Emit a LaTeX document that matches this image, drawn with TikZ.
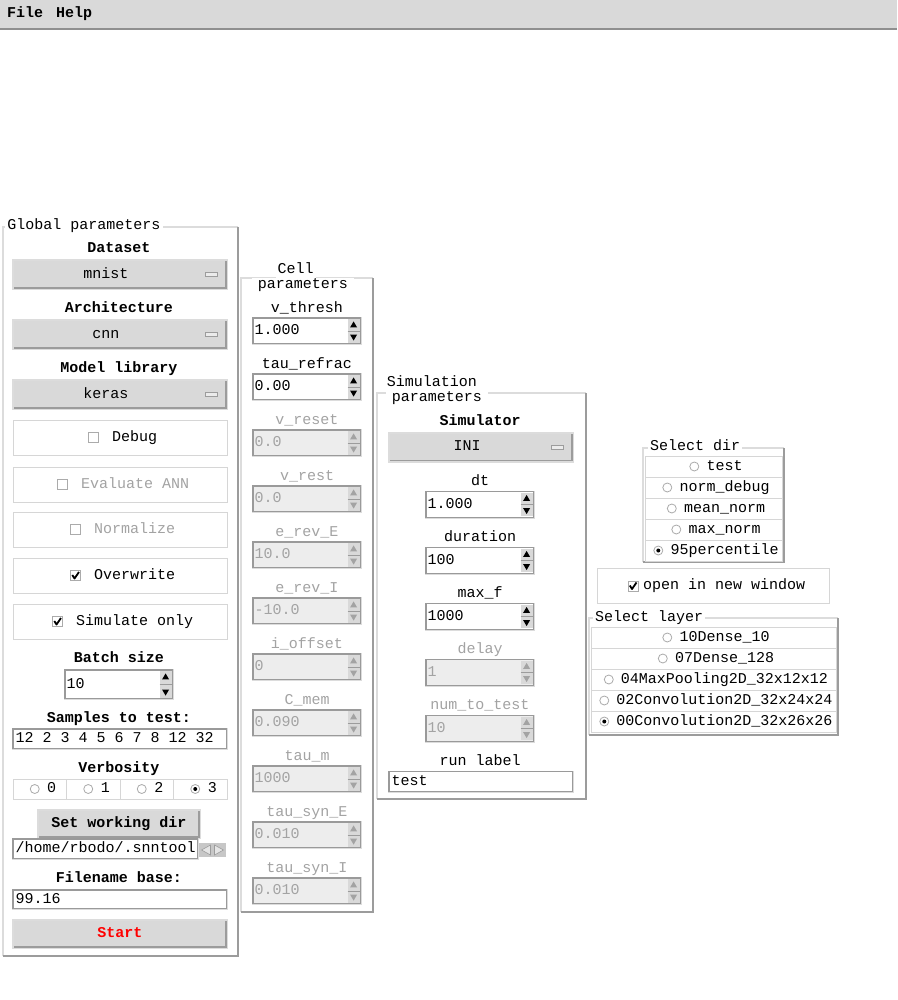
\documentclass[tikz,border=0pt]{standalone}
\usepackage{fontspec}
\newfontfamily\monofam{Liberation Mono}
\newcommand\uifont{\monofam\fontsize{15}{15}\selectfont}
\newcommand\uibold{\monofam\bfseries\fontsize{15}{15}\selectfont}
\definecolor{guigray}{HTML}{D9D9D9}
\definecolor{framelight}{HTML}{DCDCDC}
\definecolor{framedark}{HTML}{9C9C9C}
\definecolor{entrydark}{HTML}{9A9A9A}
\definecolor{rowline}{HTML}{D6D6D6}
\definecolor{radioline}{HTML}{ABABAB}
\definecolor{dimtext}{HTML}{A3A3A3}
\definecolor{offfill}{HTML}{EDEDED}
\definecolor{menuline}{HTML}{8F8F8F}
\definecolor{startred}{HTML}{FF0000}
\tikzset{
  >=latex,
  every node/.style={font=\uifont,inner sep=0pt,text height=10pt,text depth=3pt},
  tinyshape/.style={text height=0pt,text depth=0pt},
}
\tikzstyle{heading}=[font=\uibold]
\tikzstyle{title}=[fill=white,inner xsep=2pt,inner ysep=1pt]
\tikzstyle{dropbox}=[fill=guigray,draw=framelight,line width=2pt,minimum height=29pt]
\tikzstyle{button}=[fill=guigray,draw=framelight,line width=2pt,minimum height=28pt,font=\uibold]
\tikzstyle{optbox}=[draw=rowline,line width=1pt,minimum width=214pt,minimum height=35pt]
\tikzstyle{entrybox}=[fill=white,draw=entrydark,line width=1.2pt,minimum height=20pt]
\tikzstyle{spinon}=[entrybox,minimum height=26pt]
\tikzstyle{spinoff}=[entrybox,fill=offfill,minimum height=26pt]
\tikzstyle{radiorow}=[draw=rowline,fill=white,line width=1pt,minimum height=21pt]
\tikzstyle{radio}=[circle,draw=radioline,fill=white,line width=0.8pt,minimum size=9pt,tinyshape]
\tikzstyle{radiodot}=[circle,fill=black,minimum size=4pt,tinyshape]
\tikzstyle{checkbox}=[draw=radioline,fill=white,line width=0.8pt,minimum size=10pt,tinyshape]
\tikzstyle{checkmark}=[line width=1.8pt,line join=round]
\tikzstyle{indicator}=[fill=white!92!black,draw=framedark,line width=0.8pt,minimum width=12pt,minimum height=4pt,tinyshape]
\tikzstyle{scrollbtn}=[fill=black!22,minimum width=27pt,minimum height=14pt,tinyshape]
\newcommand\ridge[4]{%
  \draw[framelight,line width=2pt] (#1,#4) -- (#1,#2) -- (#3,#2);
  \draw[framedark,line width=2.5pt] (#3,#2) -- (#3,#4) -- (#1,#4);
}
\newcommand\raised[1]{%
  \draw[framedark,line width=1.2pt] ([xshift=2,yshift=2]#1.south west) -- ([xshift=-2,yshift=2]#1.south east) -- ([xshift=-2,yshift=-2]#1.north east);
}
\newcommand\sunken[1]{%
  \draw[framelight,line width=1.2pt] (#1.north east) -- (#1.south east) -- (#1.south west);
}
\newcommand\dropdown[5]{%
  \node[dropbox,minimum width=#4pt] (#1) at (#2,#3) {};
  \raised{#1}
  \node (#1text) at ([xshift=-14]#1.center) {#5};
  \node[indicator] (#1ind) at ([xshift=-17]#1.east) {};
}
\newcommand\spinbox[7]{%
  \node[#5,minimum width=#4pt] (#1) at (#2,#3) {};
  \sunken{#1}
  \node[anchor=west,text=#7] (#1val) at ([xshift=2]#1.west) {#6};
  \fill[guigray] ([xshift=-14,yshift=-2]#1.north east) rectangle ([xshift=-2,yshift=2]#1.south east);
  \draw[framedark,line width=0.8pt] ([xshift=-14]#1.east) -- ([xshift=-2]#1.east);
  \fill[#7] ([xshift=-8,yshift=-4]#1.north east) -- ++(-3.5pt,-6pt) -- ++(7pt,0pt) -- cycle;
  \fill[#7] ([xshift=-8,yshift=4]#1.south east) -- ++(-3.5pt,6pt) -- ++(7pt,0pt) -- cycle;
}
\newcommand\checkopt[6]{%
  \node[optbox] (#1) at (120,#2) {};
  \node[anchor=west,text=#5] (#1text) at (#3,#2) {#4};
  \node[checkbox] (#1box) at ([xshift=-18.5]#1text.west) {};
  \ifnum#6=1
    \draw[checkmark] ([xshift=-3.2,yshift=0.5]#1box.center) -- ([xshift=-1,yshift=-3]#1box.center) -- ([xshift=3.5,yshift=3.5]#1box.center);
  \fi
}
\begin{document}
\begin{tikzpicture}[x=1pt,y=-1pt]
\useasboundingbox (0,0) rectangle (897,1000);
\fill[white] (0,0) rectangle (897,1000);
% menu bar
\fill[guigray] (0,0) rectangle (897,29);
\draw[menuline,line width=1.5pt] (0,29) -- (897,29);
\node[heading,anchor=west] (file) at (7,14) {File};
\node[heading,anchor=west] (help) at (56,14) {Help};
% global parameters
\ridge{3}{227}{238}{956}
\node[title] (globaltitle) at (84,226) {Global parameters};
\node[heading] (datasetlbl) at (119,249) {Dataset};
\dropdown{dataset}{120}{274.5}{214}{mnist}
\node[heading] (archlbl) at (119,309) {Architecture};
\dropdown{arch}{120}{334.5}{214}{cnn}
\node[heading] (liblbl) at (119,369) {Model library};
\dropdown{lib}{120}{394.5}{214}{keras}
\checkopt{debug}{437.5}{112}{Debug}{black}{0}
\checkopt{evalann}{484.5}{81}{Evaluate ANN}{dimtext}{0}
\checkopt{normalize}{529.5}{94}{Normalize}{dimtext}{0}
\checkopt{overwrite}{575.5}{94}{Overwrite}{black}{1}
\checkopt{simonly}{621.5}{76}{Simulate only}{black}{1}
\node[heading] (batchlbl) at (119,659) {Batch size};
\spinbox{batch}{119}{684.5}{108}{spinon,minimum height=29pt}{10}{black}
\node[heading] (sampleslbl) at (119,719) {Samples to test:};
\node[entrybox,minimum width=214pt] (samples) at (120,739) {};
\sunken{samples}
\node[anchor=west] (samplesval) at ([xshift=3]samples.west) {12 2 3 4 5 6 7 8 12 32};
\node[heading] (verblbl) at (119,769) {Verbosity};
\foreach \v in {0,...,3} {
  \node[radiorow,minimum width=53.5pt,minimum height=20pt] (verb\v) at (39.75+53.5*\v,789) {};
  \node[radio] (verbradio\v) at ([xshift=-5]verb\v.center) {};
  \node (verbtext\v) at ([xshift=12]verb\v.center) {\v};
}
\node[radiodot] (verbdot) at (verbradio3) {};
\node[button,minimum width=162pt] (setdir) at (119,824) {Set working dir};
\raised{setdir}
\node[entrybox,minimum width=185pt] (workdir) at (105.5,849) {};
\sunken{workdir}
\node[anchor=west] (workdirval) at ([xshift=3]workdir.west) {/home/rbodo/.snntool};
\node[scrollbtn] (workscroll) at (212.5,850) {};
\filldraw[fill=white!90!black,draw=framedark,line width=0.6pt] ([xshift=-11]workscroll.center) -- ([xshift=-2,yshift=5]workscroll.center) -- ([xshift=-2,yshift=-5]workscroll.center) -- cycle;
\filldraw[fill=white!90!black,draw=framedark,line width=0.6pt] ([xshift=11]workscroll.center) -- ([xshift=2,yshift=5]workscroll.center) -- ([xshift=2,yshift=-5]workscroll.center) -- cycle;
\node[heading] (filelbl) at (119,879) {Filename base:};
\node[entrybox,minimum width=214pt,minimum height=19pt] (filename) at (120,899.5) {};
\sunken{filename}
\node[anchor=west] (filenameval) at ([xshift=3]filename.west) {99.16};
\node[button,minimum width=214pt,text=startred] (start) at (120,934) {Start};
\raised{start}
% cell parameters
\ridge{241}{278}{373}{912}
\node[title] (celltitle) at (295.5,270) {Cell};
\node[title,inner xsep=6pt] (celltitle2) at (303,285) {parameters};
\foreach \lbl/\val [count=\k from 0] in {v\_thresh/1.000,tau\_refrac/0.00} {
  \node (celllbl\k) at (307,309+56*\k) {\lbl};
  \spinbox{cell\k}{307}{331+56*\k}{108}{spinon}{\val}{black}
}
\foreach \lbl/\val [count=\k from 2] in {v\_reset/0.0,v\_rest/0.0,e\_rev\_E/10.0,e\_rev\_I/-10.0,i\_offset/0,C\_mem/0.090,tau\_m/1000,tau\_syn\_E/0.010,tau\_syn\_I/0.010} {
  \node[text=dimtext] (celllbl\k) at (307,309+56*\k) {\lbl};
  \spinbox{cell\k}{307}{331+56*\k}{108}{spinoff}{\val}{dimtext}
}
% simulation parameters
\ridge{377}{393}{586}{799}
\node[title] (simtitle) at (432,383) {Simulation};
\node[title,inner xsep=6pt] (simtitle2) at (437,398) {parameters};
\node[heading] (simulatorlbl) at (480,422) {Simulator};
\dropdown{simulator}{481}{447}{184}{INI}
\foreach \lbl/\val [count=\k from 0] in {dt/1.000,duration/100,max\_f/1000} {
  \node (simlbl\k) at (480,482+56*\k) {\lbl};
  \spinbox{sim\k}{480}{504.5+56*\k}{108}{spinon}{\val}{black}
}
\foreach \lbl/\val [count=\k from 3] in {delay/1,num\_to\_test/10} {
  \node[text=dimtext] (simlbl\k) at (480,482+56*\k) {\lbl};
  \spinbox{sim\k}{480}{504.5+56*\k}{108}{spinoff}{\val}{dimtext}
}
\node (runlbl) at (480,762) {run label};
\node[entrybox,minimum width=184pt] (runlabel) at (481,781.5) {};
\sunken{runlabel}
\node[anchor=west] (runlabelval) at ([xshift=3]runlabel.west) {test};
% select dir
\ridge{643}{448}{784}{562}
\node[title] (dirtitle) at (695,447) {Select dir};
\foreach \lbl [count=\k from 0] in {test,norm\_debug,mean\_norm,max\_norm,95percentile} {
  \node[radiorow,minimum width=137pt] (dirrow\k) at (713.5,466.5+21*\k) {};
  \node (dirtext\k) at (724.5,466.5+21*\k) {\lbl};
  \node[radio] (dirradio\k) at ([xshift=-12]dirtext\k.west) {};
}
\node[radiodot] (dirdot) at (dirradio4) {};
\node[optbox,minimum width=232pt] (newwin) at (713,586) {};
\node[anchor=west] (newwintext) at (643,586) {open in new window};
\node[checkbox] (newwinbox) at ([xshift=-10]newwintext.west) {};
\draw[checkmark] ([xshift=-3.2,yshift=0.5]newwinbox.center) -- ([xshift=-1,yshift=-3]newwinbox.center) -- ([xshift=3.5,yshift=3.5]newwinbox.center);
% select layer
\ridge{589}{618}{838}{735}
\node[title] (layertitle) at (649,618) {Select layer};
\foreach \lbl [count=\k from 0] in {10Dense\_10,07Dense\_128,04MaxPooling2D\_32x12x12,02Convolution2D\_32x24x24,00Convolution2D\_32x26x26} {
  \node[radiorow,minimum width=245pt] (layerrow\k) at (713.5,637.5+21*\k) {};
  \node (layertext\k) at (724.5,637.5+21*\k) {\lbl};
  \node[radio] (layerradio\k) at ([xshift=-12]layertext\k.west) {};
}
\node[radiodot] (layerdot) at (layerradio4) {};
\end{tikzpicture}
\end{document}
